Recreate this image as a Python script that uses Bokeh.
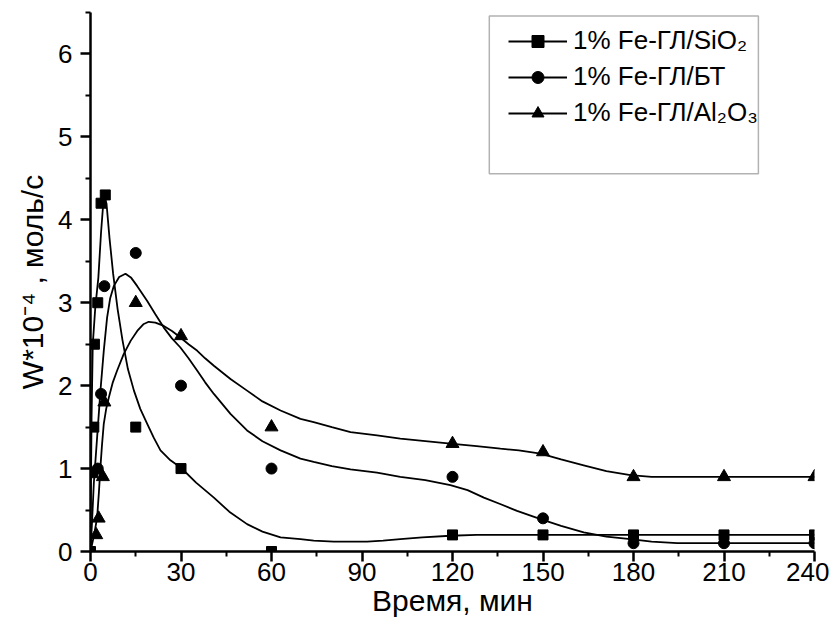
from bokeh.plotting import figure
from bokeh.models import FixedTicker, Legend, LegendItem, BoxAnnotation, Range1d
from bokeh.embed import file_html
from bokeh.resources import INLINE

# ---- measured points (time, min ; W*10^-4, mol/s) ----
sio2_t = [0, 0.8, 1.1, 1.3, 2.4, 3.5, 4.9, 15, 30, 60, 120, 150, 180, 210, 240]
sio2_w = [0, 0.95, 1.5, 2.5, 3.0, 4.2, 4.3, 1.5, 1.0, 0.0, 0.2, 0.2, 0.2, 0.2, 0.2]

bt_t = [2.4, 3.5, 4.6, 15, 30, 60, 120, 150, 180, 210, 240]
bt_w = [1.0, 1.9, 3.2, 3.6, 2.0, 1.0, 0.9, 0.4, 0.1, 0.1, 0.1]

al_t = [1.9, 2.7, 4.1, 4.6, 15, 30, 60, 120, 150, 180, 210, 240]
al_w = [0.2, 0.4, 0.9, 1.8, 3.0, 2.6, 1.5, 1.3, 1.2, 0.9, 0.9, 0.9]

# ---- smoothing curves ----
sio2_curve_t = [0, 0.15, 0.35, 0.75, 1.6, 2.6, 3.5, 4.4, 5.3, 6.3, 7.5, 9.0, 10.6, 12.4,
                14.4, 16.5, 18.8, 21.0, 23.2, 26.5, 30, 35, 40.9, 46, 51.9, 57, 63,
                69.6, 74, 80.6, 86, 91.7, 97, 102.7, 110, 119.3, 128, 135.9, 149, 180, 210, 240]
sio2_curve_w = [0, 0.8, 1.6, 2.5, 2.95, 3.3, 3.85, 4.28, 4.2, 3.78, 3.35, 2.92, 2.55, 2.2,
                1.94, 1.72, 1.54, 1.37, 1.22, 1.1, 1.01, 0.83, 0.65, 0.48, 0.33, 0.24, 0.17,
                0.15, 0.13, 0.12, 0.12, 0.12, 0.13, 0.15, 0.17, 0.19, 0.2, 0.2, 0.2, 0.2, 0.2, 0.2]

bt_curve_t = [0, 0.5, 1.1, 2.2, 3.3, 4.4, 5.5, 6.5, 7.7, 9.5, 11.6, 13.5, 15.5, 18.8, 21.5,
              24.3, 27, 29.8, 32.5, 35.4, 38, 40.9, 46.4, 51.9, 57, 63, 69.6, 74, 80, 86.2,
              95, 102.7, 111, 119.3, 125, 130.4, 136, 141.4, 149.2, 156, 163.5, 171, 179,
              186, 194.5, 210, 240]
bt_curve_w = [0, 0.35, 0.82, 1.38, 1.94, 2.42, 2.82, 3.05, 3.2, 3.31, 3.35, 3.3, 3.2, 3.02, 2.86,
              2.7, 2.57, 2.46, 2.33, 2.18, 2.04, 1.9, 1.66, 1.46, 1.33, 1.22, 1.12, 1.08, 1.03, 0.99,
              0.95, 0.9, 0.86, 0.8, 0.74, 0.65, 0.57, 0.49, 0.39, 0.31, 0.23, 0.18, 0.15,
              0.12, 0.1, 0.1, 0.1]

al_curve_t = [0, 1.2, 2.2, 2.8, 3.3, 3.8, 4.4, 5.2, 6.1, 7.4, 8.8, 11, 13.3, 15.5, 17.5, 19.3,
              21.5, 24.3, 27, 29.5, 32.5, 35.4, 38, 40.9, 46.4, 51.9, 57, 63, 69.6, 74, 80,
              86.2, 95, 102.7, 111, 119.3, 128, 135.9, 142, 149.2, 156, 163.5, 171, 179, 186,
              194.5, 210, 240]
al_curve_w = [0, 0.2, 0.41, 0.72, 1.02, 1.28, 1.54, 1.72, 1.86, 2.04, 2.18, 2.38, 2.54, 2.66, 2.74, 2.77,
              2.76, 2.72, 2.66, 2.59, 2.5, 2.42, 2.33, 2.24, 2.08, 1.94, 1.81, 1.7, 1.6, 1.56, 1.5,
              1.44, 1.4, 1.36, 1.33, 1.3, 1.27, 1.24, 1.22, 1.18, 1.11, 1.04, 0.97, 0.92, 0.9,
              0.9, 0.9, 0.9]

x_ticks = [0, 30, 60, 90, 120, 150, 180, 210, 240]
x_minor = [15, 45, 75, 105, 135, 165, 195, 225]
y_ticks = [0, 1, 2, 3, 4, 5, 6]
y_minor = [0.5, 1.5, 2.5, 3.5, 4.5, 5.5, 6.5]

series_labels = ["1% Fe-ГЛ/SiO\u2082", "1% Fe-ГЛ/БТ", "1% Fe-ГЛ/Al\u2082O\u2083"]
x_title = "Время, мин"
y_title = "W*10\u207b\u2074 , моль/с"

FONT = "Liberation Sans"

p = figure(width=829, height=633, output_backend="svg", toolbar_location=None,
           x_range=Range1d(0, 240), y_range=Range1d(0, 6.5),
           min_border_left=90, min_border_right=15, min_border_top=12, min_border_bottom=82)
p.outline_line_color = None
p.xgrid.visible = False
p.ygrid.visible = False
p.background_fill_color = "white"

for ax in (p.xaxis[0], p.yaxis[0]):
    ax.axis_line_width = 2.5
    ax.axis_line_color = "black"
    ax.major_tick_line_width = 2.5
    ax.major_tick_line_color = "black"
    ax.minor_tick_line_width = 2
    ax.minor_tick_line_color = "black"
    ax.major_tick_out = 10
    ax.major_tick_in = 0
    ax.minor_tick_out = 5
    ax.minor_tick_in = 0
    ax.major_label_text_font = FONT
    ax.major_label_text_font_size = "26px"
    ax.major_label_text_color = "black"
    ax.axis_label_text_font = FONT
    ax.axis_label_text_font_size = "30px"
    ax.axis_label_text_font_style = "normal"
    ax.axis_label_text_color = "black"

p.xaxis[0].ticker = FixedTicker(ticks=x_ticks, minor_ticks=x_minor)
p.yaxis[0].ticker = FixedTicker(ticks=y_ticks, minor_ticks=y_minor)
p.xaxis[0].major_label_standoff = 1
p.yaxis[0].major_label_standoff = 8

p.xaxis[0].axis_label = x_title
p.xaxis[0].axis_label_standoff = 0
p.yaxis[0].axis_label = y_title
p.yaxis[0].axis_label_standoff = 6

lw = 1.8
l1 = p.line(sio2_curve_t, sio2_curve_w, line_color="black", line_width=lw)
l2 = p.line(bt_curve_t, bt_curve_w, line_color="black", line_width=lw)
l3 = p.line(al_curve_t, al_curve_w, line_color="black", line_width=lw)

m1 = p.scatter(sio2_t, sio2_w, marker="square", size=10, color="black")
m2 = p.scatter(bt_t, bt_w, marker="circle", size=11, color="black")
m3 = p.scatter(al_t, al_w, marker="triangle", size=13, color="black")

box = BoxAnnotation(left=132.2, right=221.4, bottom=4.554, top=6.458,
                    fill_alpha=0, line_color="black", line_width=1.5)
p.add_layout(box)

legend = Legend(items=[LegendItem(label=series_labels[0], renderers=[l1, m1]),
                       LegendItem(label=series_labels[1], renderers=[l2, m2]),
                       LegendItem(label=series_labels[2], renderers=[l3, m3])],
                location=(418, 423))
legend.border_line_alpha = 0
legend.background_fill_alpha = 0
legend.padding = 0
legend.margin = 0
legend.spacing = 5
legend.label_height = 30
legend.glyph_height = 30
legend.glyph_width = 59
legend.label_standoff = 6
legend.label_text_font = FONT
legend.label_text_font_size = "26px"
legend.label_text_color = "black"
p.add_layout(legend)

open("out.html", "w").write(file_html(p, INLINE))
